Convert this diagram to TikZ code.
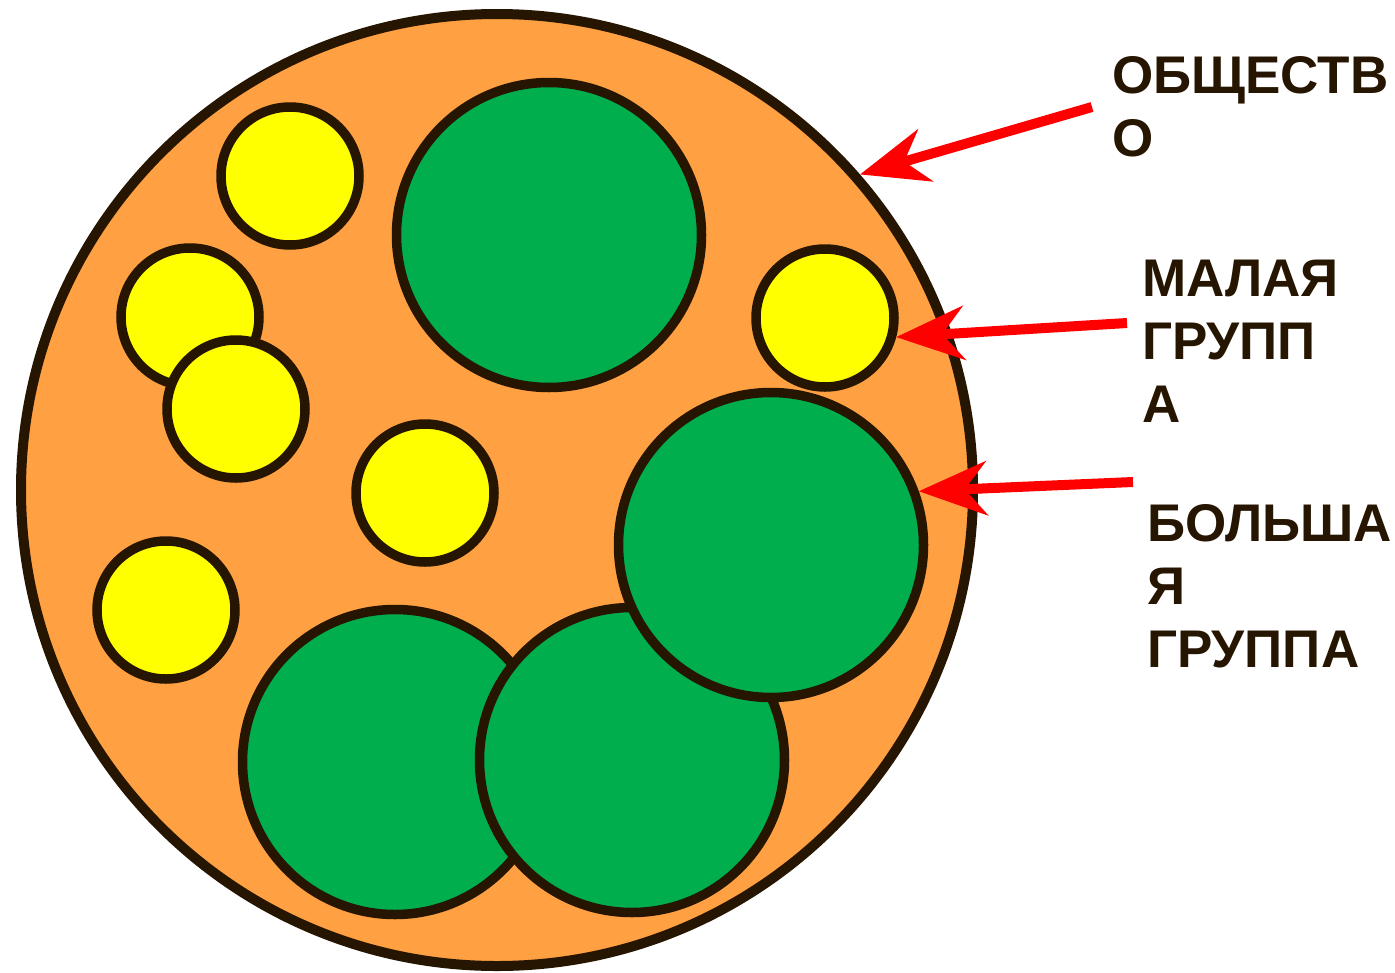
\documentclass[tikz,border=0pt]{standalone}
\usepackage{fontspec}
\setmainfont{Liberation Sans}
\usetikzlibrary{arrows.meta}
\definecolor{outl}{HTML}{261500}
\definecolor{orng}{HTML}{FFA042}
\definecolor{grn}{HTML}{00AE4E}
\definecolor{yel}{HTML}{FFFF00}
\definecolor{arr}{HTML}{FF0000}
\tikzset{
  bigc/.style={circle,draw=outl,fill=orng,line width=10pt,inner sep=0pt,minimum size=952pt},
  grc/.style={circle,draw=outl,fill=grn,line width=9.5pt,inner sep=0pt,minimum size=305pt},
  yec/.style={circle,draw=outl,fill=yel,line width=9.5pt,inner sep=0pt,minimum size=138pt},
  lbl/.style={anchor=base west,inner sep=0pt,align=left,text=outl,font=\fontsize{53}{63}\selectfont\bfseries},
  redarrow/.style={draw=arr,line width=10pt,-{Stealth[length=68pt,width=54pt,inset=22pt]}}
}
\begin{document}
\begin{tikzpicture}[x=1pt,y=-1pt]
\useasboundingbox (0,0) rectangle (1395,972);
\node[bigc] (soc) at (497,490) {};
\node[yec] (y1) at (290,176) {};
\node[grc] (g1) at (549,235) {};
\node[yec] (y2) at (190,317) {};
\node[yec] (y3) at (236,409) {};
\node[yec] (y4) at (425,493) {};
\node[yec] (y5) at (166,610) {};
\node[yec] (y6) at (825,318) {};
\node[grc] (g3) at (395,762) {};
\node[grc] (g4) at (632,760) {};
\node[grc] (g2) at (771,545) {};
\node[lbl] (tsoc) at (1112,156) {ОБЩЕСТВ\\О};
\node[lbl] (tsmall) at (1142,422) {МАЛАЯ\\ГРУПП\\А};
\node[lbl] (tbig) at (1147,667) {БОЛЬША\\Я\\ГРУППА};
\coordinate (a1) at (1092,107);
\coordinate (a2) at (1127,323);
\coordinate (a3) at (1133,482);
\draw[redarrow] (a1) -- (soc.41.6);
\draw[redarrow] (a2) -- (y6.-15);
\draw[redarrow] (a3) -- (g2.20);
\end{tikzpicture}
\end{document}
